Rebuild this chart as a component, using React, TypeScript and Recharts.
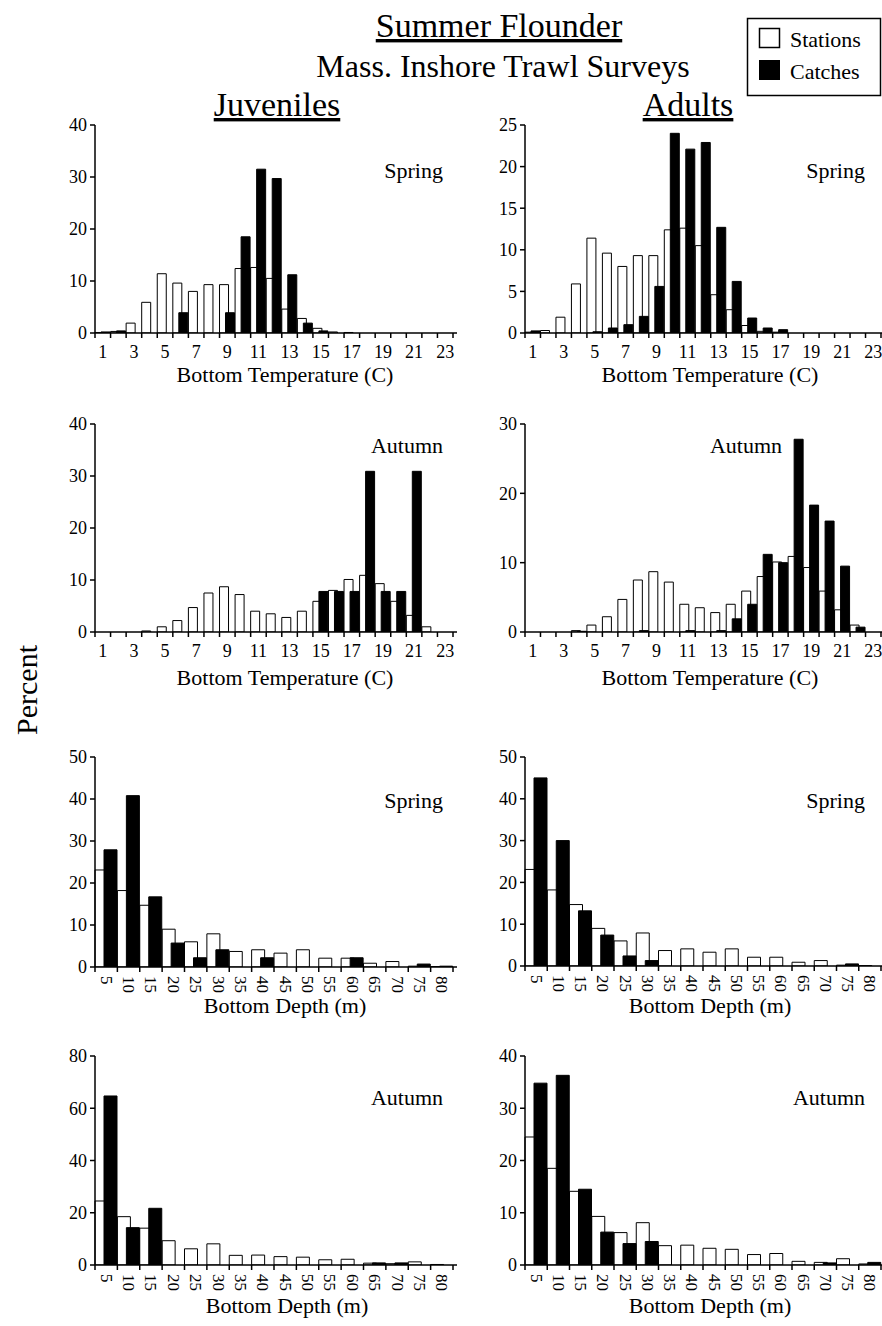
import React from "react";
import { BarChart, Bar, XAxis, YAxis } from "recharts";

const SERIF = '"Liberation Serif", "Times New Roman", Times, serif';

// temperature bins (C) and depth bins (m)
const tempBins = ["1", "2", "3", "4", "5", "6", "7", "8", "9", "10", "11", "12", "13", "14", "15", "16", "17", "18", "19", "20", "21", "22", "23"];
const depthBins = ["5", "10", "15", "20", "25", "30", "35", "40", "45", "50", "55", "60", "65", "70", "75", "80"];

// stations are the same for juveniles and adults
const springTempStations = [0.1, 0.3, 1.9, 5.9, 11.4, 9.6, 8.0, 9.3, 9.3, 12.4, 12.6, 10.5, 4.6, 2.8, 0.9, 0.2, 0.1, 0, 0, 0, 0, 0, 0];
const juvSpringTempCatches = [0.2, 0.4, 0, 0, 0, 3.9, 0, 0, 3.9, 18.5, 31.5, 29.7, 11.2, 1.9, 0.4, 0, 0, 0, 0, 0, 0, 0, 0];
const adultSpringTempCatches = [0.25, 0, 0, 0, 0.15, 0.6, 1.0, 2.0, 5.6, 24.0, 22.1, 22.9, 12.7, 6.2, 1.8, 0.6, 0.4, 0, 0, 0, 0, 0, 0];

const autumnTempStations = [0, 0, 0, 0.2, 1.0, 2.2, 4.7, 7.5, 8.7, 7.2, 4.0, 3.5, 2.8, 4.0, 5.9, 8.0, 10.1, 10.9, 9.3, 5.9, 3.2, 1.0, 0];
const juvAutumnTempCatches = [0, 0, 0, 0, 0, 0, 0, 0, 0, 0, 0, 0, 0, 0, 7.8, 7.8, 7.8, 30.9, 7.8, 7.8, 30.9, 0, 0];
const adultAutumnTempCatches = [0, 0, 0, 0.1, 0, 0, 0, 0.2, 0, 0, 0.2, 0, 0.2, 1.9, 4.0, 11.2, 10.0, 27.8, 18.3, 16.0, 9.5, 0.7, 0];

const springDepthStations = [23.1, 18.2, 14.7, 9.0, 6.0, 7.9, 3.7, 4.1, 3.3, 4.1, 2.1, 2.1, 0.9, 1.3, 0.2, 0.1];
const juvSpringDepthCatches = [27.9, 40.8, 16.7, 5.7, 2.2, 4.1, 0, 2.2, 0, 0, 0, 2.2, 0, 0, 0.7, 0.2];
const adultSpringDepthCatches = [45.0, 30.0, 13.2, 7.4, 2.4, 1.3, 0, 0, 0, 0, 0, 0, 0, 0, 0.5, 0];

const autumnDepthStations = [24.5, 18.5, 14.1, 9.3, 6.2, 8.1, 3.7, 3.8, 3.2, 3.0, 2.0, 2.2, 0.7, 0.5, 1.2, 0.2];
const juvAutumnDepthCatches = [64.7, 14.3, 21.7, 0, 0, 0, 0, 0, 0, 0, 0, 0, 0.8, 0.8, 0, 0];
const adultAutumnDepthCatches = [34.8, 36.3, 14.5, 6.3, 4.1, 4.5, 0, 0, 0, 0, 0, 0, 0, 0.4, 0, 0.5];

type BinTickProps = {
  x?: number;
  y?: number;
  index?: number;
  payload?: { value: string };
  half: number;
  count: number;
  depth?: boolean;
};

const BinTick = ({ x = 0, y = 0, index = 0, payload, half, count, depth }: BinTickProps) => {
  const last = index === count - 1;
  const ly = y + 9;
  return (
    <g>
      <line x1={x - half} x2={x - half} y1={y} y2={y + 5} stroke="#000" strokeWidth={1.5} />
      {last && <line x1={x + half} x2={x + half} y1={y} y2={y + 5} stroke="#000" strokeWidth={1.5} />}
      {last && <line x1={x + half} x2={x + half + 4} y1={y} y2={y} stroke="#000" strokeWidth={1.5} />}
      {depth ? (
        <text
          x={x}
          y={ly}
          transform={`rotate(90 ${x} ${ly})`}
          textAnchor="start"
          dominantBaseline="central"
          fontSize={17}
          fontFamily={SERIF}
          fill="#000"
        >
          {payload?.value}
        </text>
      ) : index % 2 === 0 ? (
        <text x={x} y={y + 25} textAnchor="middle" fontSize={18} fontFamily={SERIF} fill="#000">
          {payload?.value}
        </text>
      ) : null}
    </g>
  );
};

type PanelProps = {
  x: number;
  y: number;
  w: number;
  h: number;
  bins: string[];
  stations: number[];
  catches: number[];
  yTicks: number[];
  depth?: boolean;
};

const Panel = ({ x, y, w, h, bins, stations, catches, yTicks, depth }: PanelProps) => {
  const data = bins.map((bin, i) => ({ bin, stations: stations[i], catches: catches[i] }));
  const band = w / bins.length;
  const barSize = depth ? 13 : 9;
  const gap = depth ? -4 : -3;
  return (
    <div style={{ position: "absolute", left: x - 60, top: y - 15 }}>
      <BarChart
        width={w + 80}
        height={h + 60}
        data={data}
        margin={{ top: 15, right: 20, left: 0, bottom: 0 }}
        barGap={gap}
      >
        <XAxis
          dataKey="bin"
          height={45}
          interval={0}
          tickLine={false}
          tickSize={0}
          tickMargin={0}
          axisLine={{ stroke: "#000", strokeWidth: 1.5 }}
          tick={(p: any) => (
            <BinTick
              x={p.x}
              y={p.y}
              index={p.index}
              payload={p.payload}
              half={band / 2}
              count={bins.length}
              depth={depth}
            />
          )}
        />
        <YAxis
          width={60}
          domain={[0, yTicks[yTicks.length - 1]]}
          ticks={yTicks}
          interval={0}
          allowDataOverflow
          tickSize={5}
          tickMargin={3}
          axisLine={{ stroke: "#000", strokeWidth: 1.5 }}
          tickLine={{ stroke: "#000", strokeWidth: 1.5 }}
          tick={{ fill: "#000", fontSize: 18, fontFamily: SERIF }}
        />
        <Bar dataKey="stations" fill="#fff" stroke="#000" strokeWidth={1} barSize={barSize} isAnimationActive={false} />
        <Bar dataKey="catches" fill="#000" stroke="#000" strokeWidth={1} barSize={barSize} isAnimationActive={false} />
      </BarChart>
    </div>
  );
};

export default function App() {
  const L = 95;
  const R = 525;
  const LW = 358;
  const RW = 356;
  return (
    <div
      style={{
        position: "relative",
        width: 882,
        height: 1326,
        overflow: "hidden",
        background: "#fff",
        fontFamily: SERIF,
      }}
    >
      <style>{"body{margin:0}"}</style>

      <Panel x={L} y={125} w={LW} h={208} bins={tempBins} stations={springTempStations} catches={juvSpringTempCatches} yTicks={[0, 10, 20, 30, 40]} />
      <Panel x={R} y={125} w={RW} h={208} bins={tempBins} stations={springTempStations} catches={adultSpringTempCatches} yTicks={[0, 5, 10, 15, 20, 25]} />
      <Panel x={L} y={424} w={LW} h={208} bins={tempBins} stations={autumnTempStations} catches={juvAutumnTempCatches} yTicks={[0, 10, 20, 30, 40]} />
      <Panel x={R} y={424} w={RW} h={208} bins={tempBins} stations={autumnTempStations} catches={adultAutumnTempCatches} yTicks={[0, 10, 20, 30]} />
      <Panel x={L} y={757} w={LW} h={210} bins={depthBins} stations={springDepthStations} catches={juvSpringDepthCatches} yTicks={[0, 10, 20, 30, 40, 50]} depth />
      <Panel x={R} y={757} w={RW} h={209} bins={depthBins} stations={springDepthStations} catches={adultSpringDepthCatches} yTicks={[0, 10, 20, 30, 40, 50]} depth />
      <Panel x={L} y={1056} w={LW} h={209} bins={depthBins} stations={autumnDepthStations} catches={juvAutumnDepthCatches} yTicks={[0, 20, 40, 60, 80]} depth />
      <Panel x={R} y={1056} w={RW} h={209} bins={depthBins} stations={autumnDepthStations} catches={adultAutumnDepthCatches} yTicks={[0, 10, 20, 30, 40]} depth />

      <svg
        width={882}
        height={1326}
        style={{ position: "absolute", left: 0, top: 0, pointerEvents: "none" }}
        fontFamily={SERIF}
        fill="#000"
      >
        <text x={499} y={37} fontSize={34} textAnchor="middle" textDecoration="underline">Summer Flounder</text>
        <text x={503} y={77} fontSize={32} textAnchor="middle">Mass. Inshore Trawl Surveys</text>
        <text x={277} y={116} fontSize={34} textAnchor="middle" textDecoration="underline">Juveniles</text>
        <text x={688} y={116} fontSize={34} textAnchor="middle" textDecoration="underline">Adults</text>

        {/* legend */}
        <rect x={747.5} y={18.5} width={133} height={77} fill="#fff" stroke="#000" strokeWidth={1.5} />
        <rect x={759.5} y={28.5} width={20} height={19} fill="#fff" stroke="#000" strokeWidth={1.5} />
        <rect x={759} y={60} width={21} height={20} fill="#000" />
        <text x={790} y={47} fontSize={22}>Stations</text>
        <text x={790} y={79} fontSize={22}>Catches</text>

        <text x={37} y={690} fontSize={30} textAnchor="middle" transform="rotate(-90 37 690)">Percent</text>

        <text x={443} y={178} fontSize={22} textAnchor="end">Spring</text>
        <text x={865} y={178} fontSize={22} textAnchor="end">Spring</text>
        <text x={443} y={453} fontSize={22} textAnchor="end">Autumn</text>
        <text x={782} y={453} fontSize={22} textAnchor="end">Autumn</text>
        <text x={443} y={808} fontSize={22} textAnchor="end">Spring</text>
        <text x={865} y={808} fontSize={22} textAnchor="end">Spring</text>
        <text x={443} y={1105} fontSize={22} textAnchor="end">Autumn</text>
        <text x={865} y={1105} fontSize={22} textAnchor="end">Autumn</text>

        <text x={285} y={382} fontSize={22} textAnchor="middle">Bottom Temperature (C)</text>
        <text x={710} y={382} fontSize={22} textAnchor="middle">Bottom Temperature (C)</text>
        <text x={285} y={685} fontSize={22} textAnchor="middle">Bottom Temperature (C)</text>
        <text x={710} y={685} fontSize={22} textAnchor="middle">Bottom Temperature (C)</text>
        <text x={285} y={1013} fontSize={22} textAnchor="middle">Bottom Depth (m)</text>
        <text x={710} y={1013} fontSize={22} textAnchor="middle">Bottom Depth (m)</text>
        <text x={287} y={1313} fontSize={22} textAnchor="middle">Bottom Depth (m)</text>
        <text x={710} y={1313} fontSize={22} textAnchor="middle">Bottom Depth (m)</text>
      </svg>
    </div>
  );
}
